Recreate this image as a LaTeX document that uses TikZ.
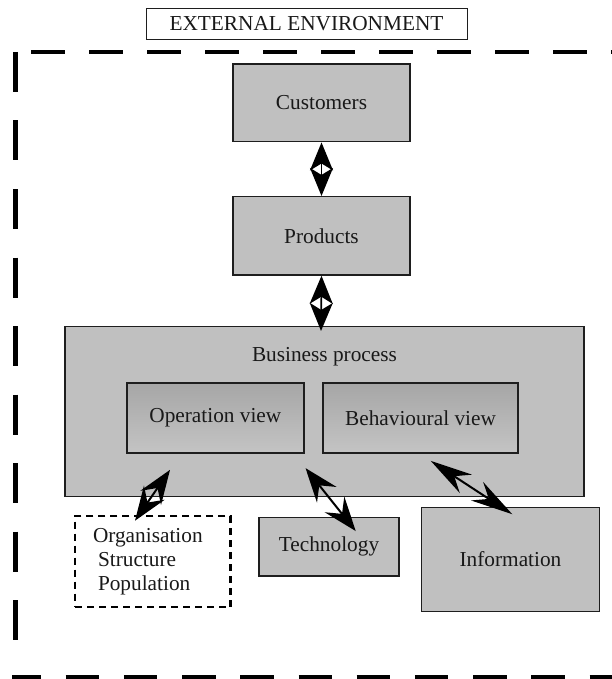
\documentclass[tikz,border=0pt]{standalone}
\usepackage{fontspec}
\setmainfont{Liberation Serif}
\usetikzlibrary{arrows.meta,calc}
\definecolor{boxgray}{RGB}{192,192,192}
\definecolor{viewtop}{RGB}{166,166,166}
\definecolor{viewbot}{RGB}{196,196,196}
\definecolor{edgecol}{RGB}{30,30,30}
\definecolor{txt}{RGB}{25,25,25}
\begin{document}
\begin{tikzpicture}[x=1pt,y=-1pt,
  font=\fontsize{21.3}{24}\selectfont,
  box/.style={draw=edgecol, line width=1.5pt, fill=boxgray, text=txt, inner sep=0pt, align=center},
  viewbox/.style={draw=edgecol, line width=1.7pt, top color=viewtop, bottom color=viewbot, text=txt, inner sep=0pt},
  plainbox/.style={draw=edgecol, line width=1pt, fill=white, text=txt, inner sep=0pt},
  orgbox/.style={draw=black, line width=2.6pt, dash pattern=on 7pt off 5pt, text=txt, inner xsep=18pt, inner ysep=0pt, align=left},
  vdbl/.style={{Stealth[length=28pt,width=23pt,inset=7pt]}-{Stealth[length=28pt,width=23pt,inset=7pt]}, line width=1.6pt, black},
  ddbl/.style={{Stealth[length=34pt,width=25pt,inset=12pt]}-{Stealth[length=34pt,width=25pt,inset=12pt]}, line width=2pt, black},
  dlong/.style={{Stealth[length=42pt,width=22pt,inset=14pt]}-{Stealth[length=42pt,width=22pt,inset=14pt]}, line width=2pt, black},
  frameline/.style={black}
]
\useasboundingbox (0,0) rectangle (612,679);
% outer dashed frame
\draw[frameline, line width=4.5pt, dash pattern=on 34pt off 24pt] (31,52) -- (612,52);
\draw[frameline, line width=5pt, dash pattern=on 40pt off 28.5pt] (15,52) -- (15,640);
\draw[frameline, line width=4pt, dash pattern=on 33.5pt off 24.7pt, dash phase=4.5pt] (12,676.5) -- (612,676.5);

% title
\node[plainbox, minimum width=321pt, minimum height=31pt] (ee) at (306.5,23.8) {EXTERNAL ENVIRONMENT};

% boxes
\node[box, minimum width=177pt, minimum height=77.7pt] (cust) at (321.5,102.85) {Customers};
\node[box, minimum width=177pt, minimum height=78.3pt] (prod) at (321.5,235.85) {Products};
\node[box, minimum width=519pt, minimum height=169.8pt] (bp) at (324.5,411.6) {};
\node[text=txt, inner sep=0pt] (bplabel) at (324.5,356.7) {Business process};
\node[viewbox, minimum width=177.3pt, minimum height=70.6pt] (op) at (215.35,418) {Operation view};
\node[viewbox, minimum width=195.6pt, minimum height=70pt] (beh) at (420.5,418) {Behavioural view};
\node[orgbox, minimum width=155.7pt, minimum height=91pt, text width=119.7pt] (org) at (152.85,561.5)
  {Organisation\\\hspace*{5pt}Structure\\\hspace*{5pt}Population};
\node[box, minimum width=140pt, minimum height=58.7pt] (tech) at (329,546.65) {Technology};
\node[box, minimum width=177.6pt, minimum height=104.4pt] (info) at (510.5,559.5) {Information};

% arrow end points
\coordinate (bpin) at ($(bp.north)+(-3.5,5)$);
\coordinate (opA) at ($(op.south)+(-45.35,15.7)$);
\coordinate (orgA) at ($(org.north)+(-17.85,6)$);
\coordinate (opB) at ($(op.south east)+(0.7,14)$);
\coordinate (techB) at ($(tech.north east)+(-44,14.5)$);
\coordinate (behC) at ($(beh.south)+(10.2,7)$);
\coordinate (infoC) at ($(info.north)+(1.8,7.7)$);

% connectors
\draw[vdbl] (cust.south) -- (prod.north);
\draw[vdbl] (prod.south) -- (bpin);
\draw[ddbl] (opA) -- (orgA);
\draw[ddbl] (opB) -- (techB);
\draw[dlong] (behC) -- (infoC);
\end{tikzpicture}
\end{document}
